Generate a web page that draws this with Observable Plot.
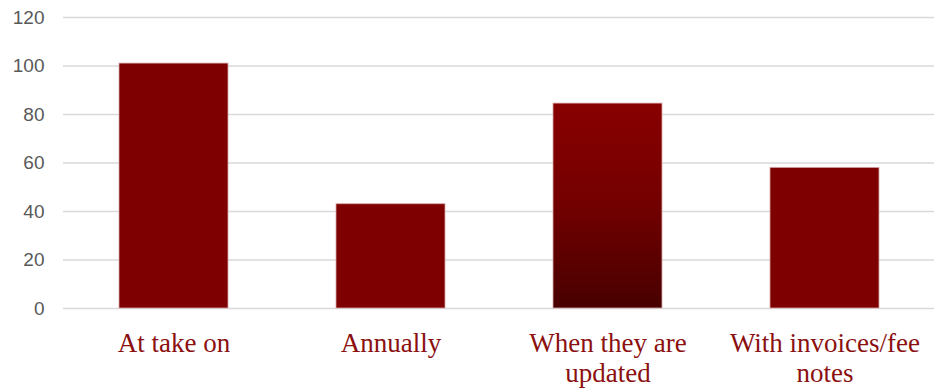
<!DOCTYPE html>
<html>
<head>
<meta charset="utf-8">
<script src="https://cdn.jsdelivr.net/npm/d3@7"></script>
<script src="https://cdn.jsdelivr.net/npm/@observablehq/plot@0.6"></script>
<style>
  html, body { margin: 0; padding: 0; background: #ffffff; }
  #chart svg { display: block; }
</style>
</head>
<body>
<div id="chart"></div>
<script>
// When client information is sent out
const categories = ["At take on", "Annually", "When they are updated", "With invoices/fee notes"];
const values = [101, 43, 84.5, 58];
const tickLabels = ["At take on", "Annually", "When they are\nupdated", "With invoices/fee\nnotes"];
const yTicks = [0, 20, 40, 60, 80, 100, 120];

const data = categories.map((category, i) => ({category, value: values[i]}));
const labelOf = new Map(categories.map((c, i) => [c, tickLabels[i]]));

const maroon = "#7f0000";

const chart = Plot.plot({
  width: 935,
  height: 388,
  marginLeft: 63,
  marginRight: 1,
  marginTop: 17,
  marginBottom: 80,
  style: {background: "#ffffff"},
  x: {domain: categories, paddingInner: 0.5, paddingOuter: 0.25, align: 0.5, axis: null},
  y: {domain: [0, 120], axis: null},
  marks: [
    Plot.gridY(yTicks, {stroke: "#d9d9d9", strokeOpacity: 1, strokeWidth: 1.3}),
    Plot.barY(data, {
      x: "category",
      y: "value",
      fill: (d) => d.category === "When they are updated" ? "url(#updated-gradient)" : maroon,
      stroke: "#d8a8a8",
      strokeWidth: 0.8
    }),
    // y tick labels, right-aligned left of the plot area
    Plot.text(yTicks, {
      y: (d) => d,
      text: (d) => String(d),
      frameAnchor: "left",
      textAnchor: "end",
      dx: -19,
      fontSize: 19,
      fontFamily: "Liberation Sans",
      fill: "#595959"
    }),
    // category labels below each bar
    Plot.text(categories, {
      x: (d) => d,
      text: (d) => labelOf.get(d),
      frameAnchor: "bottom",
      lineAnchor: "top",
      dy: 22,
      fontSize: 27,
      fontFamily: "Liberation Serif",
      fill: "#8b1010",
      lineHeight: 1.11
    })
  ]
});

// Vertical gradient used by the "When they are updated" bar
const svg = d3.select(chart);
const grad = svg.insert("defs", ":first-child")
  .append("linearGradient")
  .attr("id", "updated-gradient")
  .attr("x1", 0).attr("y1", 0).attr("x2", 0).attr("y2", 1);
grad.append("stop").attr("offset", "0%").attr("stop-color", "#880000");
grad.append("stop").attr("offset", "45%").attr("stop-color", "#760000");
grad.append("stop").attr("offset", "100%").attr("stop-color", "#480000");

document.getElementById("chart").appendChild(chart);
</script>
</body>
</html>
